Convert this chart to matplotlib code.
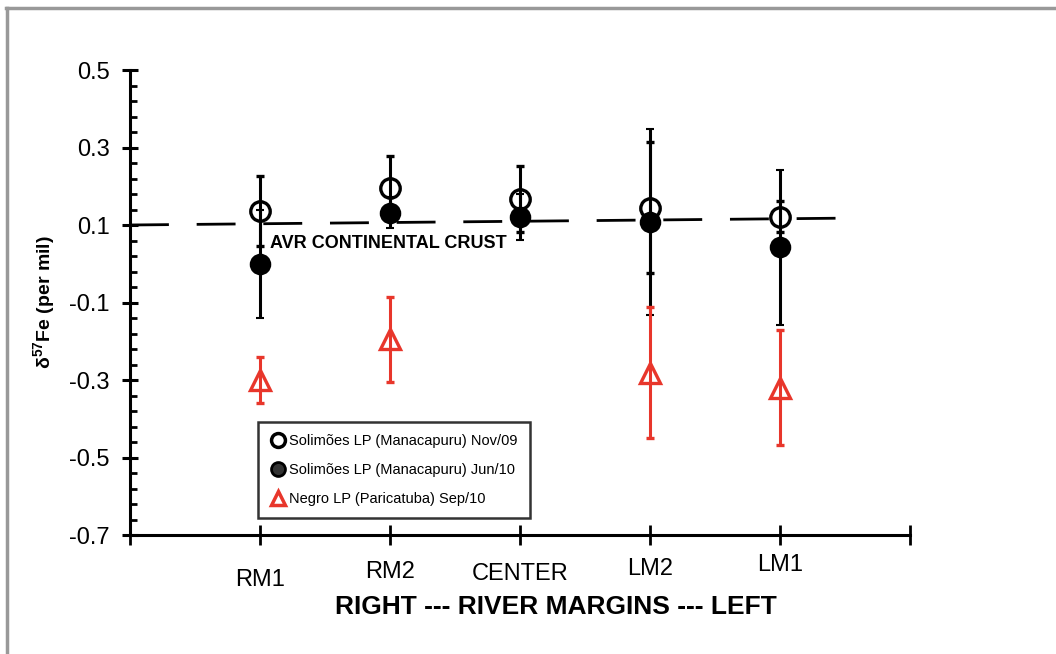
import numpy as np
import matplotlib
matplotlib.use("Agg")
import matplotlib.pyplot as plt
from matplotlib.lines import Line2D
from matplotlib.transforms import ScaledTranslation

plt.rcParams['font.family'] = ['Liberation Sans', 'DejaVu Sans']
plt.rcParams['mathtext.fontset'] = 'custom'
plt.rcParams['mathtext.rm'] = 'Liberation Sans'
plt.rcParams['mathtext.bf'] = 'Liberation Sans:bold'

# data (delta 57 Fe, per mil) along the river cross-section
positions = ['RM1', 'RM2', 'CENTER', 'LM2', 'LM1']
nov09 = [0.136, 0.195, 0.167, 0.145, 0.121]
nov09_err = [0.090, 0.083, 0.085, 0.170, 0.040]
jun10 = [0.000, 0.131, 0.121, 0.108, 0.043]
jun10_err = [0.140, 0.040, 0.060, 0.240, 0.200]
sep10 = [-0.300, -0.195, np.nan, -0.281, -0.320]
sep10_err = [0.060, 0.110, np.nan, 0.169, 0.149]
crust_x = [0.0, 5.6]
crust_y = [0.100, 0.118]

# how far each category label drops below the highest one (pixels)
label_drop = [15, 7, 9, 4, 0]

red = '#e8362b'
x = np.arange(1, len(positions) + 1)

fig = plt.figure(figsize=(10.56, 6.54), dpi=100)
ax = fig.add_axes([130/1056, 1 - 535/654, 780/1056, 465/654])

# average continental crust line
ln, = ax.plot(crust_x, crust_y, color='black', lw=2, zorder=1)
ln.set_dashes((14, 10))
ax.text(1.08, 0.052, 'AVR CONTINENTAL CRUST', fontsize=13, fontweight='bold', va='center')

ax.errorbar(x, nov09, yerr=nov09_err, fmt='o', color='black', mfc='none', mec='black',
            ms=14, mew=2.4, elinewidth=2.2, capsize=3, capthick=2.4, zorder=2)
ax.errorbar(x, jun10, yerr=jun10_err, fmt='o', color='black', mfc='black', mec='black',
            ms=14, mew=1.5, elinewidth=2.2, capsize=3, capthick=2.4, zorder=3)
ax.errorbar(x, sep10, yerr=sep10_err, fmt='^', color=red, mfc='none', mec=red,
            ms=14, mew=2.4, elinewidth=2.2, capsize=3, capthick=2.4, zorder=4)

ax.set_xlim(0, 6)
ax.set_ylim(-0.7, 0.5)
for s in ['top', 'right']:
    ax.spines[s].set_visible(False)
for s in ['left', 'bottom']:
    ax.spines[s].set_linewidth(2.2)

ax.set_yticks(np.arange(-0.7, 0.51, 0.2))
ax.set_yticklabels(['%.1f' % v for v in np.arange(-0.7, 0.51, 0.2)])
ax.set_yticks(np.arange(-0.7, 0.51, 0.04), minor=True)
ax.tick_params(axis='y', which='major', direction='inout', length=11, width=2.2,
               labelsize=17, pad=9)
ax.tick_params(axis='y', which='minor', direction='in', length=5, width=2)

ax.set_xticks(range(7))
ax.set_xticklabels([''] + positions + [''])
ax.tick_params(axis='x', which='major', direction='inout', length=14, width=2,
               labelsize=17, pad=7)
for lab, dy in zip(ax.get_xticklabels()[1:6], label_drop):
    lab.set_transform(lab.get_transform() + ScaledTranslation(0, -dy / 100, fig.dpi_scale_trans))

ax.set_ylabel('δ$^{\\mathbf{57}}$Fe (per mil)', fontsize=14, fontweight='bold', labelpad=8)
fig.text(556/1056, 1 - 607/654, 'RIGHT --- RIVER MARGINS --- LEFT', fontsize=19,
         fontweight='bold', ha='center', va='center')

handles = [
    Line2D([], [], ls='none', marker='o', ms=10, mfc='none', mec='black', mew=2.5),
    Line2D([], [], ls='none', marker='o', ms=10, mfc='#333333', mec='black', mew=2),
    Line2D([], [], ls='none', marker='^', ms=10, mfc='none', mec=red, mew=2.5),
]
labels = ['Solimões LP (Manacapuru) Nov/09',
          'Solimões LP (Manacapuru) Jun/10',
          'Negro LP (Paricatuba) Sep/10']
leg = ax.legend(handles, labels, loc='lower left', bbox_to_anchor=(128/780, 17/465),
                borderaxespad=0, fancybox=False, fontsize=10.5,
                handletextpad=0.15, handlelength=1.1, labelspacing=1.0, borderpad=0.85)
leg.get_frame().set_edgecolor('black')
leg.get_frame().set_linewidth(1.8)

# outer grey frame (top and left only)
fig.add_artist(Line2D([6/1056, 1], [1 - 8/654, 1 - 8/654], color='#999999', lw=2.5))
fig.add_artist(Line2D([7/1056, 7/1056], [1 - 8/654, 0], color='#999999', lw=2.5))

fig.savefig('out.png', dpi=100)
